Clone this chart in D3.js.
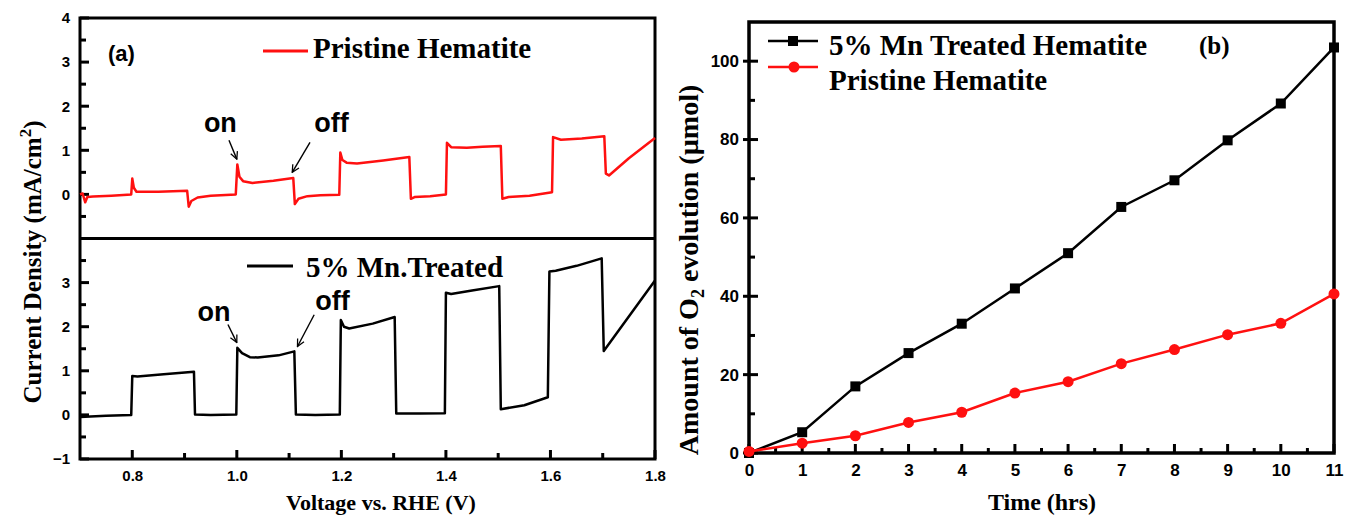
<!DOCTYPE html>
<html>
<head>
<meta charset="utf-8">
<script src="https://cdn.jsdelivr.net/npm/d3@7.9.0/dist/d3.min.js"></script>
<style>
  body { margin: 0; background: #fff; }
  svg { display: block; }
  .tick text { font-family: "Liberation Sans", Arial, sans-serif; font-weight: bold; }
  .serif { font-family: "Liberation Serif", "Times New Roman", serif; font-weight: bold; }
  .sans { font-family: "Liberation Sans", Arial, sans-serif; font-weight: bold; }
</style>
</head>
<body>
<svg id="chart" width="1345" height="516"></svg>
<script>
// ---- panel (a): chopped-light photocurrent ----
const voltPristine = [0.700, 0.705, 0.710, 0.714, 0.725, 0.760, 0.798, 0.800, 0.803, 0.808, 0.850, 0.905,
  0.908, 0.913, 0.925, 0.950, 0.998, 1.001, 1.005, 1.012, 1.030, 1.070, 1.108, 1.111, 1.118, 1.135, 1.160,
  1.196, 1.198, 1.202, 1.210, 1.230, 1.280, 1.330, 1.333, 1.340, 1.370, 1.400, 1.402, 1.410, 1.440, 1.470,
  1.505, 1.508, 1.520, 1.560, 1.603, 1.605, 1.620, 1.660, 1.703, 1.706, 1.712, 1.750, 1.800];
const curPristine = [0.00, 0.02, -0.18, -0.06, -0.05, -0.03, 0.00, 0.36, 0.15, 0.06, 0.06, 0.08,
  -0.28, -0.15, -0.07, -0.03, 0.00, 0.68, 0.40, 0.30, 0.26, 0.31, 0.37, -0.22, -0.10, -0.04, -0.02,
  -0.01, 0.95, 0.78, 0.72, 0.70, 0.77, 0.85, -0.10, -0.06, -0.04, 0.00, 1.17, 1.07, 1.06, 1.08,
  1.10, -0.10, -0.06, -0.03, 0.05, 1.30, 1.24, 1.27, 1.32, 0.47, 0.43, 0.82, 1.28];

const voltMn = [0.700, 0.750, 0.798, 0.800, 0.810, 0.860, 0.918, 0.920, 0.950, 0.999, 1.001, 1.010, 1.025,
  1.040, 1.080, 1.110, 1.113, 1.150, 1.197, 1.199, 1.205, 1.215, 1.260, 1.302, 1.305, 1.350, 1.398,
  1.400, 1.410, 1.450, 1.502, 1.505, 1.550, 1.595, 1.598, 1.610, 1.650, 1.698, 1.702, 1.800];
const curMn = [-0.05, -0.02, 0.00, 0.88, 0.87, 0.92, 0.98, 0.01, 0.00, 0.01, 1.52, 1.40, 1.31,
  1.30, 1.35, 1.44, 0.01, 0.00, 0.01, 2.15, 2.00, 1.96, 2.07, 2.22, 0.03, 0.03, 0.04,
  2.77, 2.74, 2.82, 2.92, 0.13, 0.22, 0.40, 3.25, 3.27, 3.38, 3.55, 1.45, 3.05];

const voltTicks = [0.8, 1.0, 1.2, 1.4, 1.6, 1.8];
const voltMinor = [0.9, 1.1, 1.3, 1.5, 1.7];
const topTicks = [0, 1, 2, 3, 4];
const bottomTicks = [-1, 0, 1, 2, 3];
const halfTicks = [-0.5, 0.5, 1.5, 2.5, 3.5];

// annotations in data units: text position, arrow start, arrow tip
const notesTop = [
  { text: 'on', tx: 0.937, ty: 1.42, x1: 0.985, y1: 1.23, x2: 1.0, y2: 0.8 },
  { text: 'off', tx: 1.148, ty: 1.42, x1: 1.14, y1: 1.18, x2: 1.106, y2: 0.5 }
];
const notesBottom = [
  { text: 'on', tx: 0.925, ty: 2.12, x1: 0.983, y1: 2.05, x2: 1.0, y2: 1.64 },
  { text: 'off', tx: 1.15, ty: 2.38, x1: 1.148, y1: 2.27, x2: 1.116, y2: 1.55 }
];

// ---- panel (b): O2 evolution ----
const timeHrs = [0, 1, 2, 3, 4, 5, 6, 7, 8, 9, 10, 11];
const o2Mn = [0, 5.3, 17, 25.5, 33, 42, 51, 62.8, 69.6, 79.8, 89.2, 103.5];
const o2Pristine = [0.4, 2.5, 4.4, 7.8, 10.4, 15.3, 18.2, 22.8, 26.4, 30.2, 33.1, 40.6];
const timeTicks = [0, 1, 2, 3, 4, 5, 6, 7, 8, 9, 10, 11];
const o2Ticks = [0, 20, 40, 60, 80, 100];
const o2Minor = [10, 30, 50, 70, 90];
const timeMinor = [0.5, 1.5, 2.5, 3.5, 4.5, 5.5, 6.5, 7.5, 8.5, 9.5, 10.5];

const RED = '#ff1010';
const svg = d3.select('#chart');

// axis for labels only, tick marks drawn separately
function labelAxis(axis, transform, size) {
  const g = svg.append('g').attr('transform', transform).call(axis.tickSize(0));
  g.select('.domain').remove();
  g.selectAll('.tick line').remove();
  g.selectAll('.tick text').attr('font-size', size).attr('fill', '#000');
  return g;
}
function tickMarks(values, pos, dir, from, to, axisAt) {
  const g = svg.append('g').attr('class', 'marks');
  values.forEach(v => {
    const p = pos(v);
    if (dir === 'y') {
      g.append('line').attr('x1', axisAt + from).attr('x2', axisAt + to).attr('y1', p).attr('y2', p);
    } else {
      g.append('line').attr('y1', axisAt + from).attr('y2', axisAt + to).attr('x1', p).attr('x2', p);
    }
  });
  g.selectAll('line').attr('stroke', '#000').attr('stroke-width', 3);
}

// ================= panel (a) =================
const ax = { left: 80, right: 655, top: 18, mid: 238.5, bottom: 459 };
const xV = d3.scaleLinear().domain([0.7, 1.8]).range([ax.left, ax.right]);
const yTop = d3.scaleLinear().domain([-1, 4]).range([ax.mid, ax.top]);
const yBot = d3.scaleLinear().domain([-1, 4]).range([ax.bottom, ax.mid]);

labelAxis(d3.axisLeft(yTop).tickValues(topTicks).tickPadding(10).tickFormat(d3.format('d')),
  `translate(${ax.left},0)`, 15);
labelAxis(d3.axisLeft(yBot).tickValues(bottomTicks).tickPadding(10).tickFormat(d3.format('d')),
  `translate(${ax.left},0)`, 15);
labelAxis(d3.axisBottom(xV).tickValues(voltTicks).tickPadding(11).tickFormat(d3.format('.1f')),
  `translate(0,${ax.bottom})`, 15);

tickMarks(topTicks, yTop, 'y', 0, 9, ax.left);
tickMarks(bottomTicks, yBot, 'y', 0, 9, ax.left);
tickMarks(halfTicks, yTop, 'y', 0, 6, ax.left);
tickMarks(halfTicks, yBot, 'y', 0, 6, ax.left);
tickMarks(voltTicks, xV, 'x', 0, -9, ax.bottom);
tickMarks(voltMinor, xV, 'x', 0, -6, ax.bottom);

// frame
svg.append('rect').attr('x', ax.left).attr('y', ax.top)
  .attr('width', ax.right - ax.left).attr('height', ax.bottom - ax.top)
  .attr('fill', 'none').attr('stroke', '#000').attr('stroke-width', 3);
svg.append('line').attr('x1', ax.left).attr('x2', ax.right).attr('y1', ax.mid).attr('y2', ax.mid)
  .attr('stroke', '#000').attr('stroke-width', 3);

// curves
const lineTop = d3.line().x(d => xV(d[0])).y(d => yTop(d[1]));
const lineBot = d3.line().x(d => xV(d[0])).y(d => yBot(d[1]));
svg.append('path').datum(d3.zip(voltPristine, curPristine))
  .attr('d', lineTop).attr('fill', 'none').attr('stroke', RED).attr('stroke-width', 2.5)
  .attr('stroke-linejoin', 'round');
svg.append('path').datum(d3.zip(voltMn, curMn))
  .attr('d', lineBot).attr('fill', 'none').attr('stroke', '#000').attr('stroke-width', 2.5)
  .attr('stroke-linejoin', 'round');

// arrow marker
svg.append('defs').append('marker').attr('id', 'arr')
  .attr('viewBox', '0 0 10 10').attr('refX', 9).attr('refY', 5)
  .attr('markerWidth', 9).attr('markerHeight', 9).attr('orient', 'auto')
  .attr('markerUnits', 'userSpaceOnUse')
  .append('path').attr('d', 'M1,1 L9,5 L1,9').attr('fill', 'none')
  .attr('stroke', '#000').attr('stroke-width', 1.4);

function drawNotes(notes, y) {
  notes.forEach(n => {
    svg.append('text').attr('class', 'sans').attr('x', xV(n.tx)).attr('y', y(n.ty))
      .attr('font-size', 27).text(n.text);
    svg.append('line').attr('x1', xV(n.x1)).attr('y1', y(n.y1)).attr('x2', xV(n.x2)).attr('y2', y(n.y2))
      .attr('stroke', '#000').attr('stroke-width', 1.4).attr('marker-end', 'url(#arr)');
  });
}
drawNotes(notesTop, yTop);
drawNotes(notesBottom, yBot);

// labels and legends
svg.append('text').attr('class', 'sans').attr('x', 108).attr('y', 61).attr('font-size', 22).text('(a)');
svg.append('line').attr('x1', 263).attr('x2', 308).attr('y1', 51).attr('y2', 51)
  .attr('stroke', RED).attr('stroke-width', 3);
svg.append('text').attr('class', 'serif').attr('x', 313).attr('y', 58).attr('font-size', 29)
  .text('Pristine Hematite');
svg.append('line').attr('x1', 247).attr('x2', 293).attr('y1', 266).attr('y2', 266)
  .attr('stroke', '#000').attr('stroke-width', 3);
svg.append('text').attr('class', 'serif').attr('x', 306).attr('y', 277).attr('font-size', 29)
  .text('5% Mn.Treated');

svg.append('text').attr('class', 'serif').attr('x', 381).attr('y', 510).attr('font-size', 22)
  .attr('text-anchor', 'middle').text('Voltage vs. RHE (V)');
const ytA = svg.append('text').attr('class', 'serif').attr('font-size', 25)
  .attr('text-anchor', 'middle').attr('transform', 'translate(41,262) rotate(-90)');
ytA.append('tspan').text('Current Density (mA/cm');
ytA.append('tspan').attr('dy', -10).attr('font-size', 17).text('2');
ytA.append('tspan').attr('dy', 10).text(')');

// ================= panel (b) =================
const bx = { left: 749, right: 1334, top: 22, bottom: 453 };
const xT = d3.scaleLinear().domain([0, 11]).range([bx.left, bx.right]);
const yO = d3.scaleLinear().domain([0, 110]).range([bx.bottom, bx.top]);

labelAxis(d3.axisLeft(yO).tickValues(o2Ticks).tickPadding(10), `translate(${bx.left},0)`, 17);
labelAxis(d3.axisBottom(xT).tickValues(timeTicks).tickPadding(11), `translate(0,${bx.bottom})`, 17);

tickMarks(o2Ticks, yO, 'y', -6, 9, bx.left);
tickMarks(o2Minor, yO, 'y', 0, 6, bx.left);
tickMarks(timeTicks, xT, 'x', 0, -9, bx.bottom);
tickMarks(timeMinor, xT, 'x', 0, -5, bx.bottom);

svg.append('rect').attr('x', bx.left).attr('y', bx.top)
  .attr('width', bx.right - bx.left).attr('height', bx.bottom - bx.top)
  .attr('fill', 'none').attr('stroke', '#000').attr('stroke-width', 3.5);

const lineO = d3.line().x(d => xT(d[0])).y(d => yO(d[1]));
svg.append('path').datum(d3.zip(timeHrs, o2Mn)).attr('d', lineO)
  .attr('fill', 'none').attr('stroke', '#000').attr('stroke-width', 2.5);
svg.append('path').datum(d3.zip(timeHrs, o2Pristine)).attr('d', lineO)
  .attr('fill', 'none').attr('stroke', RED).attr('stroke-width', 2.5);

svg.append('g').selectAll('rect').data(d3.zip(timeHrs, o2Mn)).join('rect')
  .attr('x', d => xT(d[0]) - 5).attr('y', d => yO(d[1]) - 5)
  .attr('width', 10).attr('height', 10).attr('fill', '#000');
svg.append('g').selectAll('circle').data(d3.zip(timeHrs, o2Pristine)).join('circle')
  .attr('cx', d => xT(d[0])).attr('cy', d => yO(d[1])).attr('r', 5.5).attr('fill', RED);

// legend (b)
svg.append('line').attr('x1', 768).attr('x2', 818).attr('y1', 41).attr('y2', 41)
  .attr('stroke', '#000').attr('stroke-width', 2.5);
svg.append('rect').attr('x', 788).attr('y', 36).attr('width', 10).attr('height', 10).attr('fill', '#000');
svg.append('line').attr('x1', 768).attr('x2', 818).attr('y1', 67).attr('y2', 67)
  .attr('stroke', RED).attr('stroke-width', 2.5);
svg.append('circle').attr('cx', 794).attr('cy', 67).attr('r', 5.5).attr('fill', RED);
svg.append('text').attr('class', 'serif').attr('x', 829).attr('y', 55).attr('font-size', 29)
  .text('5% Mn Treated Hematite');
svg.append('text').attr('class', 'serif').attr('x', 829).attr('y', 90).attr('font-size', 29)
  .text('Pristine Hematite');
svg.append('text').attr('class', 'serif').attr('x', 1199).attr('y', 54).attr('font-size', 25).text('(b)');

svg.append('text').attr('class', 'serif').attr('x', 1042).attr('y', 510).attr('font-size', 24)
  .attr('text-anchor', 'middle').text('Time (hrs)');
const ytB = svg.append('text').attr('class', 'serif').attr('font-size', 28)
  .attr('text-anchor', 'middle').attr('transform', 'translate(698,270) rotate(-90)');
ytB.append('tspan').text('Amount of O');
ytB.append('tspan').attr('dy', 6).attr('font-size', 18).text('2');
ytB.append('tspan').attr('dy', -6).text(' evolution (\u00b5mol)');
</script>
</body>
</html>
